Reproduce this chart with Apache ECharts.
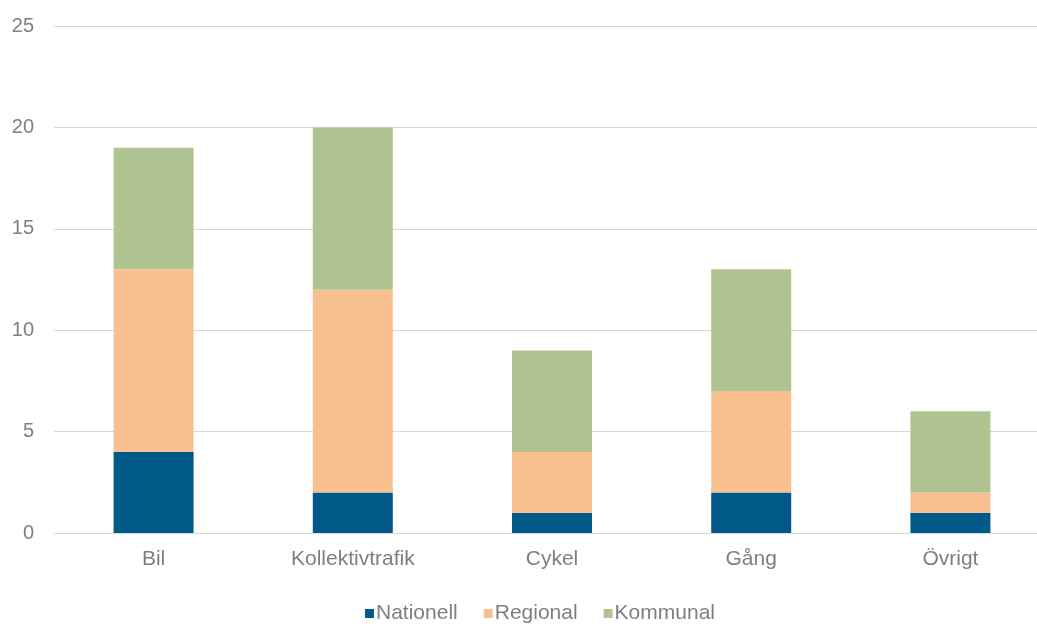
<!DOCTYPE html>
<html>
<head>
<meta charset="utf-8">
<script src="https://cdn.jsdelivr.net/npm/echarts@6/dist/echarts.min.js"></script>
<style>
  html, body { margin: 0; padding: 0; background: #ffffff; }
  #chart { width: 1037px; height: 626px; }
</style>
</head>
<body>
<div id="chart"></div>
<script>
// Trips by mode of transport, split by level of responsibility
const categories = ['Bil', 'Kollektivtrafik', 'Cykel', 'Gång', 'Övrigt'];
const nationell = [4, 2, 1, 2, 1];
const regional = [9, 10, 3, 5, 1];
const kommunal = [6, 8, 5, 6, 4];
const yTicks = [0, 5, 10, 15, 20, 25];

const font = '"Liberation Sans", Arial, sans-serif';
const textColor = '#7f7f7f';

const chart = echarts.init(document.getElementById('chart'));

function bar(name, data, color) {
  return {
    name: name,
    type: 'bar',
    stack: 'total',
    data: data,
    barWidth: 80,
    itemStyle: { color: color },
    emphasis: { disabled: true }
  };
}

chart.setOption({
  animation: false,
  textStyle: { fontFamily: font },
  // plot area runs slightly past the right edge so the last band is full width
  grid: { left: 54, top: 26, width: 996, height: 507, outerBoundsMode: 'none', containLabel: false },
  legend: {
    top: 598,
    left: 360,
    itemWidth: 9,
    itemHeight: 9,
    itemGap: 26,
    icon: 'rect',
    textStyle: { color: textColor, fontSize: 21, fontFamily: font, padding: [0, 0, 0, -3] },
    data: ['Nationell', 'Regional', 'Kommunal']
  },
  xAxis: {
    type: 'category',
    data: categories,
    axisLine: { show: true, lineStyle: { color: '#d9d9d9' } },
    axisTick: { show: false },
    axisLabel: { color: textColor, fontSize: 21, margin: 16 }
  },
  yAxis: {
    type: 'value',
    min: yTicks[0],
    max: yTicks[yTicks.length - 1],
    interval: 5,
    axisLine: { show: false },
    axisTick: { show: false },
    splitLine: { lineStyle: { color: '#d9d9d9', width: 1 } },
    axisLabel: { color: textColor, fontSize: 20, margin: 20 }
  },
  series: [
    bar('Nationell', nationell, '#005a87'),
    bar('Regional', regional, '#f8bf90'),
    bar('Kommunal', kommunal, '#afc491')
  ]
});
</script>
</body>
</html>
